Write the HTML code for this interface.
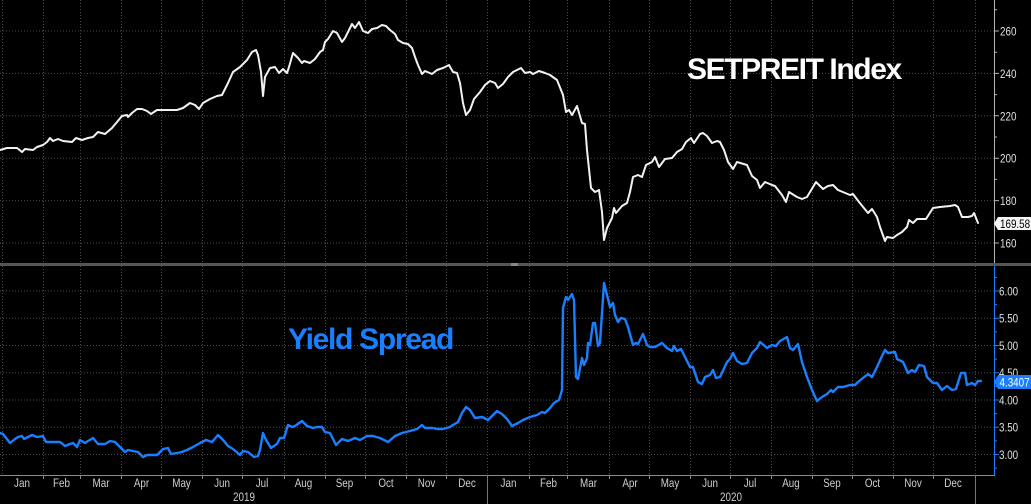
<!DOCTYPE html>
<html><head><meta charset="utf-8">
<style>
html,body{margin:0;padding:0;background:#000;}
body{width:1031px;height:504px;overflow:hidden;}
svg{display:block;}
.n{font-family:"Liberation Sans",sans-serif;font-size:12px;transform-box:fill-box;transform-origin:left center;transform:scaleX(0.82);}
.m{font-family:"Liberation Sans",sans-serif;font-size:12px;fill:#cfcfcf;text-anchor:middle;transform-box:fill-box;transform-origin:center;transform:scaleX(0.82);}
</style></head>
<body>
<svg width="1031" height="504" viewBox="0 0 1031 504" xmlns="http://www.w3.org/2000/svg">
<rect width="1031" height="504" fill="#000"/>
<!-- gridlines -->
<g stroke="#4d4d4d" stroke-width="1" stroke-dasharray="1,2" fill="none">
<path d="M0 31H994M0 73.4H994M0 115.8H994M0 158.2H994M0 200.6H994M0 243H994"/>
<path d="M0 291H994M0 318.25H994M0 345.5H994M0 372.75H994M0 400H994M0 427.25H994M0 454.5H994"/>
<path d="M2.5 0V263M43.5 0V263M80.5 0V263M121.5 0V263M161.5 0V263M202.5 0V263M242.5 0V263M284.5 0V263M325.5 0V263M365.5 0V263M406.5 0V263M446.5 0V263M487.5 0V263M529.5 0V263M567.5 0V263M609.5 0V263M649.5 0V263M690.5 0V263M730.5 0V263M771.5 0V263M812.5 0V263M852.5 0V263M893.5 0V263M933.5 0V263M975.5 0V263"/>
<path d="M2.5 266V475M43.5 266V475M80.5 266V475M121.5 266V475M161.5 266V475M202.5 266V475M242.5 266V475M284.5 266V475M325.5 266V475M365.5 266V475M406.5 266V475M446.5 266V475M487.5 266V475M529.5 266V475M567.5 266V475M609.5 266V475M649.5 266V475M690.5 266V475M730.5 266V475M771.5 266V475M812.5 266V475M852.5 266V475M893.5 266V475M933.5 266V475M975.5 266V475"/>
</g>
<!-- separator -->
<rect x="0" y="263" width="1031" height="3" fill="#555"/>
<rect x="511" y="263" width="7" height="3" fill="#888"/>
<!-- axes -->
<line x1="994.5" y1="0" x2="994.5" y2="263" stroke="#b5b5b5" stroke-width="1"/>
<line x1="994.5" y1="266" x2="994.5" y2="475" stroke="#1a7fff" stroke-width="1"/>
<line x1="0" y1="475.5" x2="995" y2="475.5" stroke="#8a8a8a" stroke-width="1"/>
<g stroke="#8a8a8a" stroke-width="1">
<path d="M43.5 476V479M80.5 476V479M121.5 476V479M161.5 476V479M202.5 476V479M242.5 476V479M284.5 476V479M325.5 476V479M365.5 476V479M406.5 476V479M446.5 476V479M529.5 476V479M567.5 476V479M609.5 476V479M649.5 476V479M690.5 476V479M730.5 476V479M771.5 476V479M812.5 476V479M852.5 476V479M893.5 476V479M933.5 476V479"/>
<path d="M487.5 476V504M975.5 476V504" stroke="#777"/>
</g>
<!-- right ticks top -->
<g stroke="#b5b5b5" stroke-width="1">
<path d="M995 31H999M995 73.4H999M995 115.8H999M995 158.2H999M995 200.6H999M995 243H999"/>
<path d="M995 9.8H997M995 52.2H997M995 94.6H997M995 137H997M995 179.4H997M995 222H997"/>
</g>
<g stroke="#1a7fff" stroke-width="1">
<path d="M995 291H999M995 318.25H999M995 345.5H999M995 372.75H999M995 400H999M995 427.25H999M995 454.5H999"/>
<path d="M995 277.4H997M995 304.6H997M995 331.9H997M995 359.1H997M995 386.4H997M995 413.6H997M995 440.9H997M995 468.1H997"/>
</g>
<!-- y labels -->
<g fill="#e0e0e0">
<text class="n" x="1000" y="35.5">260</text>
<text class="n" x="1000" y="77.9">240</text>
<text class="n" x="1000" y="120.3">220</text>
<text class="n" x="1000" y="162.7">200</text>
<text class="n" x="1000" y="205.1">180</text>
<text class="n" x="1000" y="247.5">160</text>
<text class="n" x="999" y="295.5">6.00</text>
<text class="n" x="999" y="322.7">5.50</text>
<text class="n" x="999" y="350">5.00</text>
<text class="n" x="999" y="377.2">4.50</text>
<text class="n" x="999" y="404.5">4.00</text>
<text class="n" x="999" y="431.7">3.50</text>
<text class="n" x="999" y="459">3.00</text>
</g>
<!-- x labels -->
<g>
<text class="m" x="22" y="487">Jan</text>
<text class="m" x="61.5" y="487">Feb</text>
<text class="m" x="101" y="487">Mar</text>
<text class="m" x="141.5" y="487">Apr</text>
<text class="m" x="181.5" y="487">May</text>
<text class="m" x="222" y="487">Jun</text>
<text class="m" x="262" y="487">Jul</text>
<text class="m" x="303.5" y="487">Aug</text>
<text class="m" x="344.5" y="487">Sep</text>
<text class="m" x="386" y="487">Oct</text>
<text class="m" x="426.5" y="487">Nov</text>
<text class="m" x="467" y="487">Dec</text>
<text class="m" x="508.5" y="487">Jan</text>
<text class="m" x="548.5" y="487">Feb</text>
<text class="m" x="588.5" y="487">Mar</text>
<text class="m" x="630" y="487">Apr</text>
<text class="m" x="670" y="487">May</text>
<text class="m" x="710" y="487">Jun</text>
<text class="m" x="750" y="487">Jul</text>
<text class="m" x="791" y="487">Aug</text>
<text class="m" x="832" y="487">Sep</text>
<text class="m" x="872.5" y="487">Oct</text>
<text class="m" x="913" y="487">Nov</text>
<text class="m" x="953" y="487">Dec</text>
<text class="m" x="244" y="501">2019</text>
<text class="m" x="731" y="501">2020</text>
</g>
<!-- series -->
<polyline fill="none" stroke="#f2f2f2" stroke-width="2" stroke-linejoin="round" stroke-linecap="round" points="0,150 7,148 17,148 22,152 25,149 33,150 37,147 43,145 47,142 50,138 53,141 58,139 63,141 72,142 76,138 82,140 88,138 93,137 98,132 105,134 112,128 117,122 122,116 127,115 128,117 132,113 137,109 142,109 147,111 151,114 157,110 167,110 177,110 183,108 190,103 195,105 199,109 203,103 210,99 217,96 222,95 228,83 233,72 240,67 247,60 252,52 256,50 258,55 261,72 263,96 265,77 270,68 275,67 279,73 283,69 287,73 289,67 293,53 298,58 302,63 304,61 310,63 315,59 320,52 323,50 325,42 328,39 333,31 337,33 342,42 345,38 352,24 355,28 359,22 363,31 368,33 372,29 377,28 382,25 386,26 390,30 395,34 398,40 403,43 408,44 412,48 415,57 418,65 422,74 425,71 432,74 437,70 443,68 449,65 453,72 457,73 460,83 463,103 466,115 470,110 474,99 480,92 485,85 490,81 495,83 498,88 503,84 508,77 513,72 521,68 525,73 530,72 533,74 539,71 545,73 550,75 557,80 563,95 566,112 569,110 572,115 577,106 582,123 585,124 587,150 591,188 595,192 599,190 602,212 604,240 607,228 612,218 614,208 616,213 622,206 627,203 630,192 633,177 638,175 642,177 646,165 652,162 655,157 659,167 665,159 672,158 677,152 682,149 686,142 691,138 694,143 700,134 703,133 707,136 712,143 717,141 720,142 724,150 728,162 733,169 737,162 747,165 752,176 757,180 760,188 765,182 772,185 775,186 782,195 786,202 789,192 797,197 802,199 807,197 810,192 816,182 823,189 828,186 833,185 838,190 850,195 853,194 859,202 868,213 872,209 877,217 880,227 885,241 887,237 893,238 897,235 902,232 907,227 909,220 913,223 917,219 926,219 933,208 940,207 950,206 955,205 958,207 962,217 968,217 972,216 974,213 978,223"/>
<polyline fill="none" stroke="#1a7fff" stroke-width="2.4" stroke-linejoin="round" stroke-linecap="round" points="0,433 3,434 10,443 15,439 18,437 22,436 24,439 32,435 37,437 43,436 46,442 55,442 60,442 65,446 70,444 73,443 77,447 80,440 85,443 88,441 93,438 98,444 105,444 110,441 115,442 120,447 125,452 128,450 133,451 138,452 143,457 147,455 157,455 163,449 168,448 171,454 177,453 182,452 187,450 193,447 200,443 206,440 212,442 218,435 223,440 228,446 233,449 240,455 243,451 248,452 254,457 258,456 260,450 263,433 266,440 271,448 277,444 280,438 284,438 288,425 292,427 295,426 302,421 307,426 313,428 317,427 322,427 325,432 330,433 336,445 342,439 348,441 355,438 360,440 367,436 373,436 380,438 388,442 395,436 402,433 410,431 417,429 422,425 425,428 433,428 437,429 443,429 450,427 453,425 458,422 462,413 466,407 470,410 475,418 482,417 488,420 493,415 497,411 502,414 507,419 512,426 518,423 523,420 530,417 537,415 542,412 545,413 550,408 554,403 559,400 562,390 563,308 566,297 568,300 572,294 574,300 576,377 578,379 582,358 584,365 587,358 588,343 590,345 593,323 595,323 598,346 600,343 604,283 607,295 610,307 613,303 615,315 618,322 621,318 625,319 628,327 633,345 636,343 638,344 643,334 647,345 650,347 655,347 662,343 667,348 672,351 674,346 677,351 681,349 683,353 690,367 693,367 698,382 702,384 705,377 710,375 713,370 716,378 720,377 727,362 730,359 733,353 737,361 742,364 747,363 752,353 757,348 760,342 767,348 772,345 776,346 780,341 787,337 790,348 793,350 798,344 802,362 807,377 812,390 817,401 822,397 827,394 831,390 833,392 838,387 843,387 850,385 855,385 858,382 863,378 868,374 872,377 877,367 882,356 885,350 888,353 895,352 897,359 903,362 908,373 912,370 915,372 919,365 924,366 927,377 933,383 937,383 942,390 947,386 952,390 956,389 961,373 965,373 967,385 972,383 975,385 978,381 981,381"/>
<!-- last value labels -->
<polygon points="994,223.5 998,217 1031,217 1031,230 998,230" fill="#f4f4f4"/>
<text class="n" x="1000" y="227.8" fill="#000">169.58</text>
<polygon points="994,382 998,375 1031,375 1031,389 998,389" fill="#1a7fff"/>
<text class="n" x="999.5" y="386.5" fill="#fff">4.3407</text>
<!-- titles -->
<text x="687" y="79" font-family="Liberation Sans, sans-serif" font-size="30" font-weight="bold" letter-spacing="-1.4" fill="#ffffff">SETPREIT Index</text>
<text x="288" y="349" font-family="Liberation Sans, sans-serif" font-size="30" font-weight="bold" letter-spacing="-1.3" fill="#1a7fff">Yield Spread</text>
</svg>
</body></html>
